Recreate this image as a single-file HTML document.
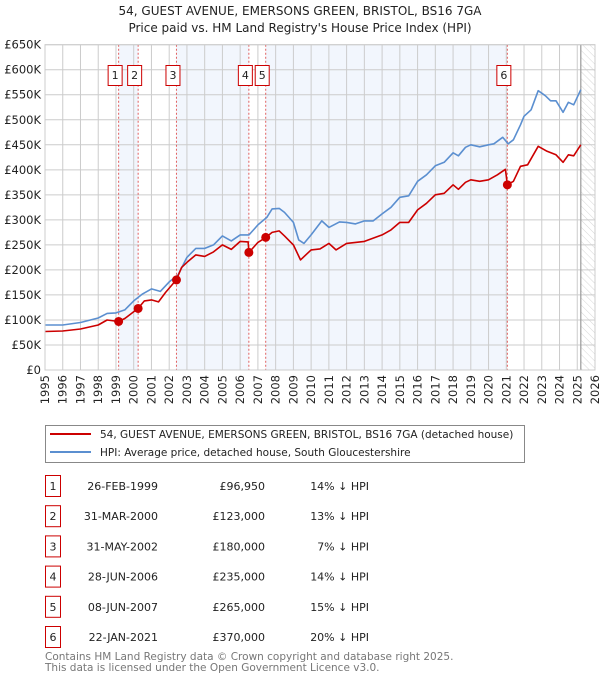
<!DOCTYPE html>
<html><head><meta charset="utf-8">
<style>
body{margin:0;background:#fff;font-family:"DejaVu Sans","Liberation Sans",sans-serif;}
svg{display:block}
</style></head>
<body>
<svg id="chart" width="600" height="680" xmlns="http://www.w3.org/2000/svg" font-family="DejaVu Sans, Liberation Sans, sans-serif">
<text x="300" y="15" text-anchor="middle" font-size="12" fill="#222">54, GUEST AVENUE, EMERSONS GREEN, BRISTOL, BS16 7GA</text>
<text x="300" y="32" text-anchor="middle" font-size="12" fill="#222">Price paid vs. HM Land Registry's House Price Index (HPI)</text>
<defs><pattern id="hatch" width="5" height="5" patternUnits="userSpaceOnUse" patternTransform="rotate(-45)"><line x1="0" y1="0" x2="0" y2="5" stroke="#ccc" stroke-width="0.8"/></pattern></defs>
<g id="bands"></g>
<g id="grid"></g>
<g id="series"></g>
<g id="markers"></g>
<g id="axes"></g>
<g>
<rect x="45.5" y="425.5" width="479" height="37" fill="#fff" stroke="#888"/>
<line x1="50" y1="434" x2="91" y2="434" stroke="#cc0000" stroke-width="2"/>
<text x="100" y="438" font-size="10.5" fill="#222">54, GUEST AVENUE, EMERSONS GREEN, BRISTOL, BS16 7GA (detached house)</text>
<line x1="50" y1="452" x2="91" y2="452" stroke="#5b8fd0" stroke-width="2"/>
<text x="100" y="456" font-size="10.5" fill="#222">HPI: Average price, detached house, South Gloucestershire</text>
</g>
<g id="table"></g>
<text x="45" y="660" font-size="10.5" fill="#777">Contains HM Land Registry data © Crown copyright and database right 2025.</text>
<text x="45" y="671" font-size="10.5" fill="#777">This data is licensed under the Open Government Licence v3.0.</text>
</svg>
<script>
const hpiYears=[1995,1996,1997,1998,1998.5,1999,1999.5,2000,2000.5,2001,2001.5,2002,2002.5,2003,2003.5,2004,2004.5,2005,2005.5,2006,2006.5,2007,2007.5,2007.8,2008.2,2008.5,2009,2009.3,2009.6,2010,2010.6,2011,2011.6,2012,2012.5,2013,2013.5,2014,2014.5,2015,2015.5,2016,2016.5,2017,2017.5,2018,2018.3,2018.7,2019,2019.5,2020,2020.3,2020.8,2021.1,2021.4,2021.8,2022,2022.4,2022.8,2023.2,2023.5,2023.8,2024.2,2024.5,2024.8,2025.2];
const hpiValues=[90,90,95,104,113,114,120,138,152,162,157,176,190,225,243,243,250,268,258,270,270,290,305,322,323,315,295,260,253,270,298,285,296,295,292,298,298,312,325,345,348,377,390,408,415,434,428,445,450,446,450,452,465,452,460,490,507,520,558,548,538,538,515,535,530,560];
const ppYears=[1995,1996,1997,1998,1998.5,1999.15,1999.5,2000.25,2000.6,2001,2001.4,2001.8,2002.4,2002.7,2003,2003.5,2004,2004.5,2005,2005.5,2006,2006.45,2006.5,2007,2007.45,2007.8,2008.2,2008.5,2009,2009.4,2010,2010.5,2011,2011.4,2012,2013,2014,2014.5,2015,2015.5,2016,2016.5,2017,2017.5,2018,2018.3,2018.7,2019,2019.5,2020,2020.5,2020.95,2021.06,2021.4,2021.8,2022.2,2022.8,2023.3,2023.8,2024.2,2024.5,2024.8,2025.2];
const ppValues=[77,78,82,90,100,97,103,123,138,140,136,155,180,205,215,230,227,236,250,241,257,256,235,255,265,275,278,268,250,220,240,242,253,240,253,257,270,280,295,295,320,333,350,353,370,361,375,380,377,380,390,401,370,377,407,410,447,437,430,415,430,428,450];
const saleYears=[1999.15,2000.25,2002.41,2006.49,2007.44,2021.06];
const saleValues=[96.95,123,180,235,265,370];
const saleDates=["26-FEB-1999","31-MAR-2000","31-MAY-2002","28-JUN-2006","08-JUN-2007","22-JAN-2021"];
const salePrices=["£96,950","£123,000","£180,000","£235,000","£265,000","£370,000"];
const saleDiffs=["14% ↓ HPI","13% ↓ HPI","7% ↓ HPI","14% ↓ HPI","15% ↓ HPI","20% ↓ HPI"];
const yTicks=[0,50,100,150,200,250,300,350,400,450,500,550,600,650];
const yTickLabels=["£0","£50K","£100K","£150K","£200K","£250K","£300K","£350K","£400K","£450K","£500K","£550K","£600K","£650K"];
const xTicks=[1995,1996,1997,1998,1999,2000,2001,2002,2003,2004,2005,2006,2007,2008,2009,2010,2011,2012,2013,2014,2015,2016,2017,2018,2019,2020,2021,2022,2023,2024,2025,2026];

const L=45,R=595,T=44.7,B=370,X0=1995,X1=2026,YMAX=650,NOW=2025.2;
const sx=v=>L+(v-X0)/(X1-X0)*(R-L);
const sy=v=>B-v/YMAX*(B-T);
const NS="http://www.w3.org/2000/svg";
function mk(tag,attrs,parent){const e=document.createElementNS(NS,tag);for(const k in attrs)e.setAttribute(k,attrs[k]);parent.appendChild(e);return e;}
const bands=document.getElementById('bands'),grid=document.getElementById('grid'),series=document.getElementById('series'),markers=document.getElementById('markers'),axes=document.getElementById('axes'),table=document.getElementById('table');

for(let i=0;i+1<saleYears.length;i+=2){
  const r=mk('rect',{x:sx(saleYears[i]),y:T,width:sx(saleYears[i+1])-sx(saleYears[i]),height:B-T,fill:'#f2f6fd'},bands);
  
  
}
const h=mk('rect',{x:sx(NOW),y:T,width:R-sx(NOW),height:B-T,fill:'url(#hatch)'},bands);



yTicks.forEach((v,i)=>{
  const g=mk('line',{x1:L,x2:R,y1:sy(v),y2:sy(v),stroke:'#ccc','stroke-width':1},grid);
  
  
  const t=mk('text',{x:L-4,y:sy(v)+4,'text-anchor':'end','font-size':11.5,fill:'#222'},axes);
  t.textContent=yTickLabels[i];
  
  
});
xTicks.forEach(v=>{
  const g=mk('line',{x1:sx(v),x2:sx(v),y1:T,y2:B,stroke:'#ccc','stroke-width':1},grid);
  
  
  const t=mk('text',{x:0,y:0,'text-anchor':'end','font-size':11.5,fill:'#222',transform:`translate(${sx(v)+4},375) rotate(-90)`},axes);
  t.textContent=v;
  
  
});
const nl=mk('line',{x1:sx(NOW),x2:sx(NOW),y1:T,y2:B,stroke:'#999','stroke-width':1.2},grid);



saleYears.forEach((y,i)=>{
  const v=mk('line',{x1:sx(y),x2:sx(y),y1:T,y2:B,stroke:'#e06060','stroke-width':1,'stroke-dasharray':'2,2'},grid);
  
  
  const xx=sx(y)-10;
  const b=mk('rect',{x:xx-0.5,y:65.5,width:14,height:20,fill:'#fff',stroke:'#cc0000','stroke-width':1},markers);
  
  
  const t=mk('text',{x:xx+6.5,y:79,'text-anchor':'middle','font-size':11,fill:'#222'},markers);
  t.textContent=i+1;
  
  
});

function line(xs,vs,color,name){
  const d=xs.map((x,i)=>(i?'L':'M')+sx(x).toFixed(1)+','+sy(vs[i]).toFixed(1)).join('');
  const p=mk('path',{d:d,fill:'none',stroke:color,'stroke-width':1.6,'stroke-linejoin':'round'},series);
  
  
}
line(hpiYears,hpiValues,'#5b8fd0','hpi-line');
line(ppYears,ppValues,'#cc0000','price-paid-line');
saleYears.forEach((y,i)=>{
  const c=mk('circle',{cx:sx(y),cy:sy(saleValues[i]),r:4.5,fill:'#cc0000'},markers);
  
  
});
mk('rect',{x:L,y:T,width:R-L,height:B-T,fill:'none',stroke:'#ccc'},axes);

saleDates.forEach((d,i)=>{
  const cy=486+i*30.2;
  const b=mk('rect',{x:45.5,y:cy-10.5,width:15,height:21,fill:'#fff',stroke:'#cc0000'},table);
  
  
  const n=mk('text',{x:53,y:cy+4,'text-anchor':'middle','font-size':11,fill:'#222'},table);
  n.textContent=i+1;
  
  
  const t1=mk('text',{x:158,y:cy+4,'text-anchor':'end','font-size':11,fill:'#222'},table);
  t1.textContent=d;
  
  
  const t2=mk('text',{x:265,y:cy+4,'text-anchor':'end','font-size':11,fill:'#222'},table);
  t2.textContent=salePrices[i];
  
  
  const t3=mk('text',{x:369,y:cy+4,'text-anchor':'end','font-size':11,fill:'#222'},table);
  t3.textContent=saleDiffs[i];
  
  
});
</script>
</body></html>
